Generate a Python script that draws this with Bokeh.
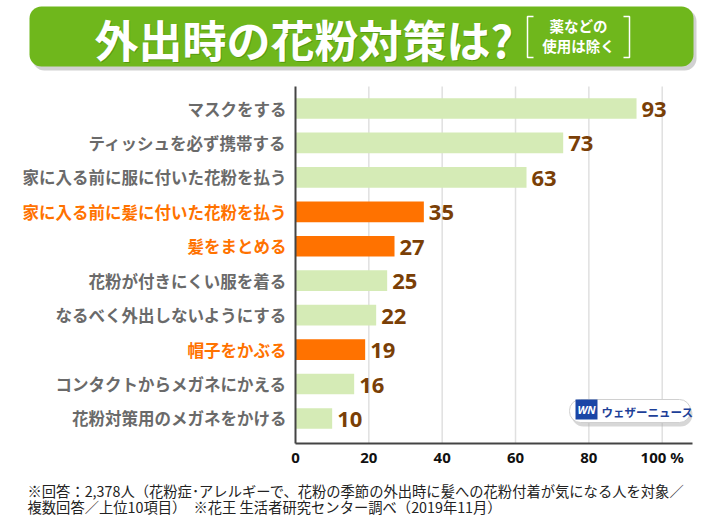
from bokeh.plotting import figure
from bokeh.models import Range1d, FixedTicker, LinearAxis, ColumnDataSource
from bokeh.core.properties import value
from bokeh.embed import file_html
from bokeh.resources import INLINE

# ---------------- data ----------------
categories = [
    "マスクをする",
    "ティッシュを必ず携帯する",
    "家に入る前に服に付いた花粉を払う",
    "家に入る前に髪に付いた花粉を払う",
    "髪をまとめる",
    "花粉が付きにくい服を着る",
    "なるべく外出しないようにする",
    "帽子をかぶる",
    "コンタクトからメガネにかえる",
    "花粉対策用のメガネをかける",
]
values = [93, 73, 63, 35, 27, 25, 22, 19, 16, 10]
highlight = [False, False, False, True, True, False, False, True, False, False]
x_ticks = [0, 20, 40, 60, 80, 100]
x_tick_labels = ["0", "20", "40", "60", "80", "100 %"]
title_text = "外出時の花粉対策は?"
note_line1 = "薬などの"
note_line2 = "使用は除く"
foot1 = "※回答：2,378人（花粉症･アレルギーで、花粉の季節の外出時に髪への花粉付着が気になる人を対象／"
foot2 = "複数回答／上位10項目）　※花王 生活者研究センター調べ（2019年11月）"
logo_text = "ウェザーニュース"

# ---------------- styles ----------------
GREEN = "#6fb71c"
BAR_LIGHT = "#d5ebb6"
ORANGE = "#ff7200"
GRAY_LABEL = "#6a6a6a"
VALUE_COLOR = "#7a3f06"
JP = "Noto Sans CJK JP"

W, H = 712, 521
PX_PER_UNIT = 366.7 / 100.0
X0 = 295.0            # canvas x of value 0
ROW = 34.44           # px per category
Y0 = 108.0            # canvas y of first category center

x_start = -X0 / PX_PER_UNIT
x_end = (W - X0) / PX_PER_UNIT
y_bottom = (H - Y0) / ROW
y_top = -Y0 / ROW
v_top = (86 - Y0) / ROW
v_bot = (443 - Y0) / ROW
x_axis_end = 108.2

p = figure(width=W, height=H, output_backend="svg", toolbar_location=None,
           x_range=Range1d(x_start, x_end), y_range=Range1d(y_bottom, y_top),
           x_axis_location=None, y_axis_location=None,
           min_border=0, min_border_left=0, min_border_right=0,
           min_border_top=0, min_border_bottom=0)
p.outline_line_color = None
p.grid.visible = False
p.background_fill_color = "white"
p.extra_x_ranges = {"px": Range1d(0, W)}
p.extra_y_ranges = {"px": Range1d(H, 0)}

idx = list(range(len(categories)))

# grid lines (from tick list)
p.segment(x0=x_ticks[1:], x1=x_ticks[1:], y0=[v_top] * 5, y1=[v_bot] * 5,
          line_color="#e0e0e0", line_width=1.5)

# bars
colors = [ORANGE if h else BAR_LIGHT for h in highlight]
src = ColumnDataSource(dict(y=idx, right=values, color=colors,
                            label=[str(v) for v in values]))
p.hbar(y="y", left=0, right="right", height=0.6, fill_color="color",
       line_color=None, source=src)
p.text(x="right", y="y", text="label", source=src, x_offset=5, y_offset=1,
       text_baseline="middle", text_align="left",
       text_font=value("Noto Sans"), text_font_style="bold",
       text_font_size="22px", text_color=VALUE_COLOR)

# x axis
xaxis = LinearAxis(fixed_location=v_bot, ticker=FixedTicker(ticks=x_ticks),
                   major_label_overrides=dict(zip(x_ticks, x_tick_labels)),
                   bounds=(0, x_axis_end))
xaxis.axis_line_color = "#444444"
xaxis.axis_line_width = 2
xaxis.major_tick_line_color = None
xaxis.minor_tick_line_color = None
xaxis.major_tick_out = 0
xaxis.major_tick_in = 0
xaxis.minor_tick_out = 0
xaxis.major_label_standoff = 3
xaxis.major_label_text_font = "Noto Sans"
xaxis.major_label_text_font_style = "bold"
xaxis.major_label_text_font_size = "15px"
xaxis.major_label_text_color = "#111111"
p.add_layout(xaxis, "below")

# y axes: grey labels and orange labels overlaid at x = 0
def make_yaxis(show_highlight, line_color, color):
    overrides = {}
    for i, (c, h) in enumerate(zip(categories, highlight)):
        overrides[i] = c if h == show_highlight else " "
    ax = LinearAxis(fixed_location=0, ticker=FixedTicker(ticks=idx),
                    major_label_overrides=overrides, bounds=(v_top, v_bot))
    ax.axis_line_color = line_color
    ax.axis_line_width = 2
    ax.major_tick_line_color = None
    ax.minor_tick_line_color = None
    ax.major_tick_out = 0
    ax.major_tick_in = 0
    ax.minor_tick_out = 0
    ax.major_label_standoff = 9
    ax.major_label_text_font = JP
    ax.major_label_text_font_style = "bold"
    ax.major_label_text_font_size = "16.5px"
    ax.major_label_text_color = color
    return ax

p.add_layout(make_yaxis(False, "#444444", GRAY_LABEL), "left")
p.add_layout(make_yaxis(True, None, ORANGE), "left")

# ---------------- banner ----------------
pxkw = dict(x_range_name="px", y_range_name="px")
p.quad(left=[32], right=[696], top=[9], bottom=[70], fill_color="#9a9a9a",
       fill_alpha=0.45, line_color=None, border_radius=12, **pxkw)
p.quad(left=[29], right=[693], top=[6], bottom=[66], fill_color=GREEN,
       line_color=None, border_radius=12, **pxkw)
p.text(x=[95], y=[39], text=[title_text], text_font=value(JP),
       text_font_style="bold", text_font_size="44px", text_color="#3d7d08",
       text_alpha=0.5, text_align="left", text_baseline="middle", **pxkw)
p.text(x=[94], y=[38], text=[title_text], text_font=value(JP),
       text_font_style="bold", text_font_size="44px", text_color="white",
       text_align="left", text_baseline="middle", **pxkw)
# bracket note
p.multi_line(xs=[[533, 527, 527, 533], [623, 629, 629, 623]],
             ys=[[16, 16, 57, 57], [16, 16, 57, 57]],
             line_color="white", line_width=1.5, **pxkw)
p.text(x=[578, 578], y=[25, 45], text=[note_line1, note_line2],
       text_font=value(JP), text_font_style="bold", text_font_size="14.5px",
       text_color="white", text_align="center", text_baseline="middle", **pxkw)

# ---------------- logo ----------------
p.quad(left=[571], right=[692], top=[402], bottom=[426], fill_color="#b0b0b0",
       fill_alpha=0.5, line_color=None, border_radius=12, **pxkw)
p.quad(left=[569], right=[690], top=[399], bottom=[422], fill_color="white",
       line_color="#d0d0d0", line_width=1, border_radius=11, **pxkw)
p.quad(left=[575], right=[597], top=[399], bottom=[419], fill_color="#1b46a6",
       line_color=None, **pxkw)
p.text(x=[586], y=[409], text=["WN"], text_font=value("Noto Sans"),
       text_font_style="bold italic", text_font_size="11px", text_color="white",
       text_align="center", text_baseline="middle", **pxkw)
p.text(x=[601], y=[411], text=[logo_text], text_font=value(JP),
       text_font_style="bold", text_font_size="11.5px", text_color="#1d3f98",
       text_align="left", text_baseline="middle", **pxkw)

# ---------------- footnote ----------------
p.text(x=[27, 27], y=[490, 506], text=[foot1, foot2], text_font=value(JP),
       text_font_size="14.3px", text_color="#222222", text_align="left",
       text_baseline="middle", **pxkw)

open("out.html", "w").write(file_html(p, INLINE))
